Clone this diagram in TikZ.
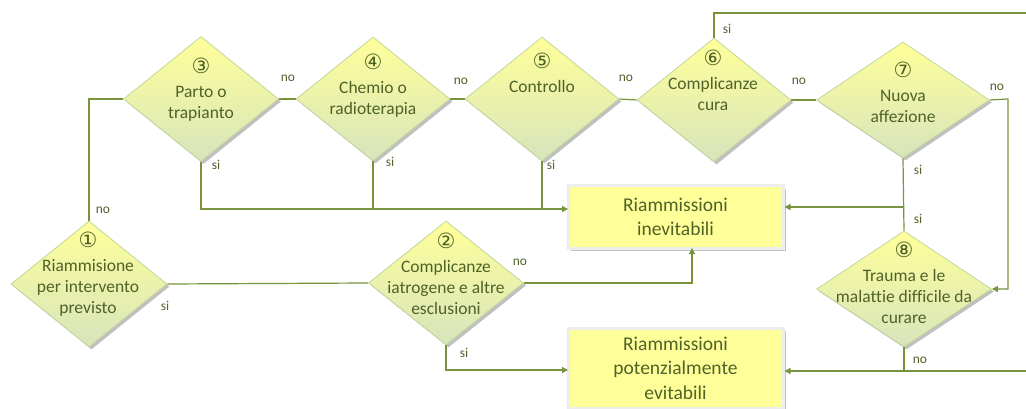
\documentclass[tikz,border=0pt]{standalone}
\usepackage{fontspec}
\setmainfont{Carlito}[Ligatures=NoCommon]
\newfontfamily\circfont{DejaVu Sans}
\usetikzlibrary{shapes.geometric,arrows.meta,shadows}
\definecolor{ln}{HTML}{77933C}
\definecolor{tx}{HTML}{4F6228}
\definecolor{dtop}{HTML}{FFFF99}
\definecolor{dbot}{HTML}{D7E4BD}
\definecolor{dbrd}{HTML}{C3D69B}
\definecolor{bfill}{HTML}{FFFF99}
\tikzset{
  dia/.style={diamond, draw=dbrd, line width=0.8pt, top color=dtop, bottom color=dbot,
    inner sep=0pt, drop shadow={shadow xshift=2.5pt, shadow yshift=-2.5pt, fill=black!45, opacity=0.55}},
  dtext/.style={align=center, text=tx, font=\fontsize{17.5}{21}\selectfont, inner sep=0pt},
  rbox/.style={rectangle, fill=bfill, draw=black!7, line width=3pt, text=tx,
    font=\fontsize{19.5}{24.5}\selectfont, align=center, minimum width=215pt,
    drop shadow={shadow xshift=3pt, shadow yshift=-3pt, fill=black!45, opacity=0.55}},
  lab/.style={text=tx, font=\fontsize{13.5}{15}\selectfont, inner sep=0pt},
  conn/.style={draw=ln, line width=1.2pt},
  arr/.style={conn, -{Triangle[length=6pt,width=6pt]}}
}
\newcommand{\cnum}[1]{{\circfont\fontsize{21}{21}\selectfont #1}\\[3pt]}
\begin{document}
\begin{tikzpicture}[x=1pt,y=-1pt]
\useasboundingbox (0,0) rectangle (1026,409);
% diamonds
\node[dia, minimum width=155pt, minimum height=125pt] (d3) at (201,99) {};
\node[dia, minimum width=154pt, minimum height=124pt] (d4) at (373,99) {};
\node[dia, minimum width=154pt, minimum height=124pt] (d5) at (542,99) {};
\node[dia, minimum width=154pt, minimum height=124pt] (d6) at (714,100) {};
\node[dia, minimum width=173pt, minimum height=116pt] (d7) at (903,100) {};
\node[dia, minimum width=156pt, minimum height=126pt] (d1) at (89,284) {};
\node[dia, minimum width=155pt, minimum height=124pt] (d2) at (446,283) {};
\node[dia, minimum width=175pt, minimum height=116pt] (d8) at (904,289) {};
% diamond texts
\node[dtext] (t3) at (201,90) {\cnum{③}Parto o\\trapianto};
\node[dtext] (t4) at (373,86) {\cnum{④}Chemio o\\radioterapia};
\node[dtext] (t5) at (542,73) {\cnum{⑤}Controllo};
\node[dtext] (t6) at (713,80) {\cnum{⑥}Complicanze\\cura};
\node[dtext] (t7) at (903,92) {\cnum{⑦}Nuova\\affezione};
\node[dtext] (t1) at (88,274) {\cnum{①}Riammisione\\per intervento\\previsto};
\node[dtext] (t2) at (446,274) {\cnum{②}Complicanze\\iatrogene e altre\\esclusioni};
\node[dtext] (t8) at (904,283) {\cnum{⑧}Trauma e le\\malattie difficile da\\curare};
% boxes
\node[rbox, minimum height=62pt] (b1) at (675.5,217) {Riammissioni\\inevitabili};
\node[rbox, minimum height=80pt] (b2) at (675.5,368) {Riammissioni\\potenzialmente\\evitabili};
% coordinates
\coordinate (in1) at (568,209);
\coordinate (j7) at (903,207);
\coordinate (in2) at (692,248);
\coordinate (in3) at (568,370);
\coordinate (exb) at (1026,371);
\coordinate (ext) at (1026,13);
\coordinate (r7) at (1008,99);
% connectors
\draw[conn] (d1.north) |- (d3.west);
\draw[conn] (d1.east) -- (d2.west);
\draw[conn] (d3.east) -- (d4.west);
\draw[conn] (d4.east) -- (d5.west);
\draw[conn] (d5.east) -- (d6.west);
\draw[conn] (d6.east) -- (d7.west);
\draw[arr] (d3.south) |- (in1);
\draw[conn] (d4.south) -- (d4.south |- in1);
\draw[conn] (d5.south) -- (d5.south |- in1);
\draw[conn] (d6.north) |- (ext);
\draw[arr] (d7.east) -- (r7) |- (d8.east);
\draw[conn] (d7.south) -- (d8.north);
\draw[arr] (j7) -- (b1.east |- j7);
\draw[arr] (d2.east) -| (in2);
\draw[arr] (d2.south) |- (in3);
\draw[conn] (d8.south) -- (d8.south |- exb);
\draw[arr] (exb) -- (b2.east |- exb);
% labels
\node[lab] (l1) at (103,210) {no};
\node[lab] (l2) at (165,306) {si};
\node[lab] (l3) at (288,78) {no};
\node[lab] (l4) at (461,81) {no};
\node[lab] (l5) at (626,78) {no};
\node[lab] (l6) at (799,81) {no};
\node[lab] (l7) at (216,165) {si};
\node[lab] (l8) at (390,162) {si};
\node[lab] (l9) at (551,165) {si};
\node[lab] (l10) at (727,29) {si};
\node[lab] (l11) at (997,87) {no};
\node[lab] (l12) at (918,170) {si};
\node[lab] (l13) at (918,219) {si};
\node[lab] (l14) at (520,262) {no};
\node[lab] (l15) at (464,353) {si};
\node[lab] (l16) at (920,360) {no};
\end{tikzpicture}
\end{document}
